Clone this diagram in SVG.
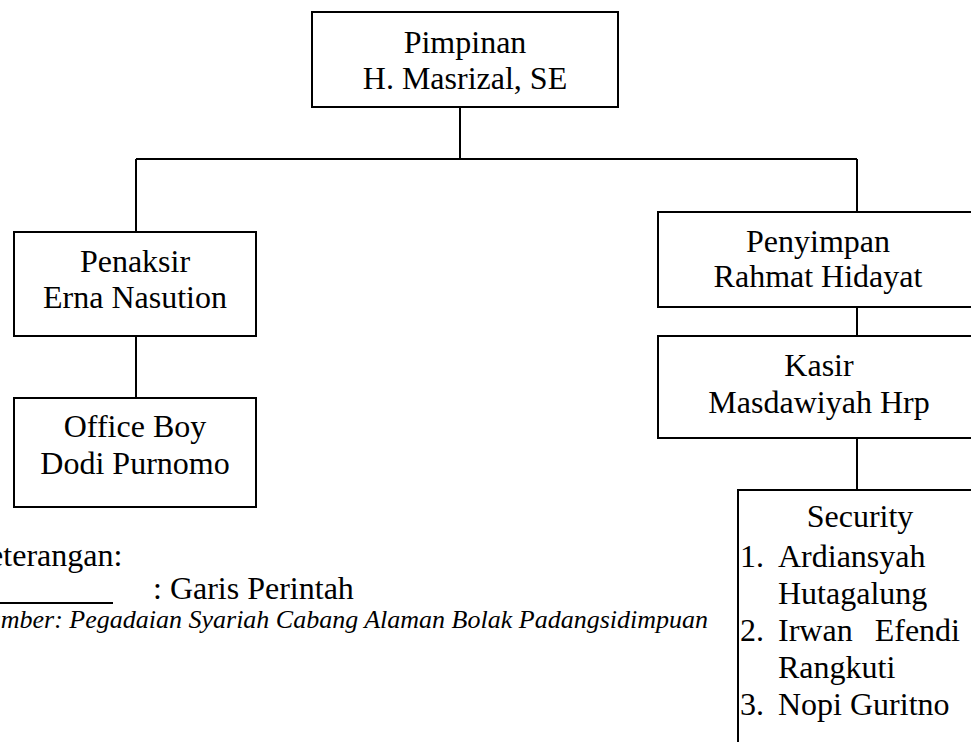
<svg xmlns="http://www.w3.org/2000/svg" width="971" height="742" viewBox="0 0 971 742">
<style>
.box{fill:#fff;stroke:#000;stroke-width:2}
.ln{fill:none;stroke:#000;stroke-width:2}
.t{font-family:Liberation Serif,serif;font-size:32px;fill:#000}
.c{text-anchor:middle}
.it{font-family:Liberation Serif,serif;font-size:26px;font-style:italic;fill:#000}
</style>
<rect width="971" height="742" fill="#fff"/>
<g id="connectors">
<path class="ln" d="M460 107V159M136 159H857M136 159V232M857 159V212M136 336V398M857 307V336M857 438V490"/>
</g>
<g id="pimpinan">
<rect class="box" x="312" y="12" width="306" height="95"/>
<text class="t c" x="465" y="53">Pimpinan</text>
<text class="t c" x="465" y="89">H. Masrizal, SE</text>
</g>
<g id="penaksir">
<rect class="box" x="14" y="232" width="242" height="104"/>
<text class="t c" x="135" y="272">Penaksir</text>
<text class="t c" x="135" y="308">Erna Nasution</text>
</g>
<g id="officeboy">
<rect class="box" x="14" y="398" width="242" height="109"/>
<text class="t c" x="135" y="437">Office Boy</text>
<text class="t c" x="135" y="474">Dodi Purnomo</text>
</g>
<g id="penyimpan">
<rect class="box" x="658" y="212" width="330" height="95"/>
<text class="t c" x="818" y="252">Penyimpan</text>
<text class="t c" x="818" y="287">Rahmat Hidayat</text>
</g>
<g id="kasir">
<rect class="box" x="658" y="336" width="330" height="102"/>
<text class="t c" x="819" y="376">Kasir</text>
<text class="t c" x="819" y="413">Masdawiyah Hrp</text>
</g>
<g id="security">
<rect class="box" x="738" y="490" width="260" height="300"/>
<text class="t c" x="860" y="527">Security</text>
<text class="t" x="740" y="567">1.</text>
<text class="t" x="778" y="567">Ardiansyah</text>
<text class="t" x="778" y="604">Hutagalung</text>
<text class="t" x="740" y="641">2.</text>
<text class="t" y="641"><tspan x="778">Irwan</tspan><tspan x="960" text-anchor="end">Efendi</tspan></text>
<text class="t" x="778" y="678">Rangkuti</text>
<text class="t" x="740" y="715">3.</text>
<text class="t" x="778" y="715">Nopi Guritno</text>
</g>
<g id="legend">
<text class="t" x="-34" y="566">Keterangan:</text>
<path class="ln" d="M0 603H113"/>
<text class="t" x="153" y="599">: Garis Perintah</text>
<text class="it" x="708" y="628" text-anchor="end">Sumber: Pegadaian Syariah Cabang Alaman Bolak Padangsidimpuan</text>
</g>
</svg>
